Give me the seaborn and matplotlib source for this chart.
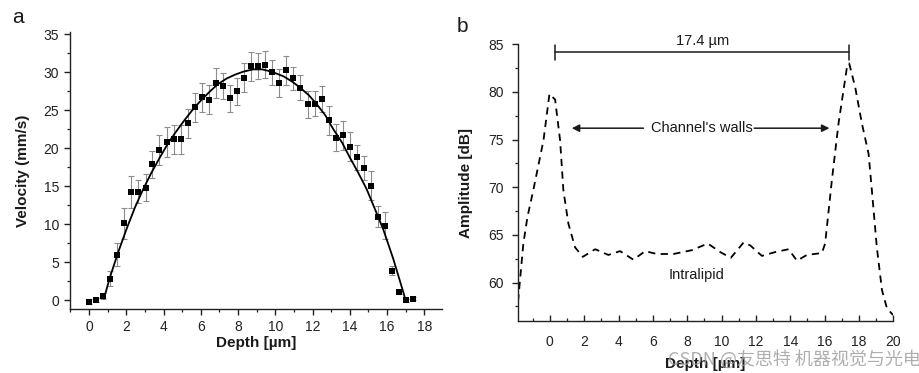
import numpy as np
import pandas as pd
import matplotlib
matplotlib.use("Agg")
import matplotlib.pyplot as plt
from matplotlib.ticker import MultipleLocator
import seaborn as sns

# ---------------- data: panel a ----------------
depth_a = [0.00, 0.38, 0.76, 1.13, 1.51, 1.89, 2.27, 2.65, 3.03, 3.40, 3.78, 4.16,
           4.54, 4.92, 5.30, 5.67, 6.05, 6.43, 6.81, 7.19, 7.57, 7.95, 8.32, 8.70,
           9.08, 9.46, 9.84, 10.22, 10.59, 10.97, 11.35, 11.73, 12.11, 12.49, 12.86,
           13.24, 13.62, 14.00, 14.38, 14.76, 15.13, 15.51, 15.89, 16.27, 16.65,
           17.03, 17.40]
velocity = [-0.2, 0.0, 0.6, 2.8, 6.0, 10.1, 14.3, 14.3, 14.8, 17.9, 19.8, 20.8,
            21.2, 21.2, 23.3, 25.4, 26.7, 26.4, 28.6, 28.2, 26.6, 27.5, 29.3, 30.8,
            30.8, 31.0, 30.0, 28.6, 30.3, 29.2, 28.0, 25.8, 25.9, 26.5, 23.7,
            21.4, 21.7, 20.2, 18.8, 17.4, 15.1, 11.0, 9.8, 3.9, 1.1,
            0.0, 0.2]
vel_err = [0.3, 0.3, 0.4, 1.0, 1.5, 2.0, 2.1, 1.5, 1.8, 1.8, 2.0, 2.0,
           1.9, 1.9, 1.9, 1.9, 1.9, 1.9, 2.0, 1.7, 1.8, 1.8, 1.9, 1.9,
           1.7, 1.8, 1.6, 1.8, 1.9, 1.5, 1.6, 1.8, 1.6, 1.7, 1.9,
           1.8, 1.9, 1.9, 1.6, 1.6, 1.9, 1.4, 1.8, 0.6, 0.3,
           0.2, 0.2]
fit_x = [0.80, 1.11, 1.56, 2.00, 2.46, 2.90, 3.35, 3.80, 4.25, 4.70, 5.15, 5.60,
         6.04, 6.49, 6.94, 7.39, 7.83, 8.28, 8.80, 9.30, 9.80, 10.43, 10.90, 11.33,
         11.80, 12.23, 12.70, 13.12, 13.60, 14.00, 14.45, 14.91, 15.35, 15.80,
         16.34, 16.88, 16.97]
fit_y = [0.2, 2.95, 6.3, 9.3, 12.2, 14.6, 16.8, 18.8, 20.7, 22.3, 23.8, 25.2,
         26.4, 27.5, 28.5, 29.2, 29.7, 30.1, 30.4, 30.4, 30.1, 29.5, 28.8, 28.0,
         27.0, 25.8, 24.3, 22.5, 20.7, 18.8, 16.8, 14.6, 12.0, 9.3,
         5.4, 1.0, 0.2]

# ---------------- data: panel b ----------------
depth_b = [-1.85, -1.54, -1.30, -0.96, -0.37, -0.02, 0.31, 0.60, 0.79, 1.08, 1.47,
           1.92, 2.64, 3.41, 4.09, 4.87, 5.55, 6.23, 7.20, 8.27, 9.20, 9.92,
           10.54, 11.28, 11.67, 12.35, 13.12, 13.90, 14.39, 14.97, 15.84, 16.03,
           16.42, 16.81, 17.30, 17.43, 17.78, 18.17, 18.56, 18.75, 19.04, 19.34,
           19.63, 19.98]
amplitude = [58.0, 64.1, 66.9, 69.7, 74.9, 79.8, 79.2, 74.9, 69.7, 66.2, 63.7,
             62.7, 63.5, 62.9, 63.3, 62.4, 63.3, 63.0, 63.0, 63.4, 64.1, 63.2,
             62.6, 64.2, 63.9, 62.8, 63.2, 63.5, 62.3, 62.9, 63.1, 64.1,
             70.7, 76.7, 82.6, 83.0, 80.5, 76.7, 73.5, 69.7, 63.7, 59.2,
             57.3, 56.6]

# annotation anchors (panel b, data units)
span_x = [0.33, 17.43]
span_y = 84.16
span_label = "17.4 µm"
walls_y = 76.2
walls_arrow_left = [5.45, 1.28]
walls_arrow_right = [11.9, 16.28]
walls_label = "Channel's walls"
lipid_label = "Intralipid"

df_a = pd.DataFrame({"depth": depth_a, "velocity": velocity, "err": vel_err})
df_fit = pd.DataFrame({"depth": fit_x, "velocity": fit_y})
df_b = pd.DataFrame({"depth": depth_b, "amplitude": amplitude})

sns.set_style("ticks")
plt.rcParams["font.family"] = ["Liberation Sans", "Noto Sans CJK SC", "DejaVu Sans"]
plt.rcParams["axes.edgecolor"] = "#222222"
plt.rcParams["xtick.color"] = "#222222"
plt.rcParams["ytick.color"] = "#222222"
plt.rcParams["text.color"] = "#1a1a1a"
plt.rcParams["axes.labelcolor"] = "#1a1a1a"

fig = plt.figure(figsize=(9.2, 3.73), dpi=100)
ax1 = fig.add_axes([0.0766, 0.1729, 0.4038, 0.7408])
ax2 = fig.add_axes([0.5627, 0.1402, 0.4083, 0.7410])

# ---- panel a ----
ax1.errorbar(df_a["depth"], df_a["velocity"], yerr=df_a["err"], fmt="none",
             ecolor="#8c8c8c", elinewidth=0.8, capsize=2.5, capthick=0.8, zorder=1)
sns.lineplot(data=df_fit, x="depth", y="velocity", ax=ax1, color="black",
             linewidth=1.3, estimator=None, sort=False, zorder=2)
sns.scatterplot(data=df_a, x="depth", y="velocity", ax=ax1, marker="s", s=20,
                color="black", linewidth=0, zorder=3)
ax1.set_xlim(-1.0, 18.95)
ax1.set_ylim(-1.1, 35.3)
ax1.xaxis.set_major_locator(MultipleLocator(2))
ax1.xaxis.set_minor_locator(MultipleLocator(1))
ax1.yaxis.set_major_locator(MultipleLocator(5))
ax1.yaxis.set_minor_locator(MultipleLocator(2.5))
ax1.tick_params(which="major", direction="out", length=4, width=1, labelsize=10, pad=4)
ax1.tick_params(which="minor", direction="out", length=2.5, width=0.9)
ax1.set_xlabel("Depth [µm]", fontsize=11, fontweight="bold", labelpad=2)
ax1.set_ylabel("Velocity (mm/s)", fontsize=11, fontweight="bold", labelpad=10)
sns.despine(ax=ax1)
for s in ("left", "bottom"):
    ax1.spines[s].set_linewidth(1.0)

# ---- panel b ----
sns.lineplot(data=df_b, x="depth", y="amplitude", ax=ax2, color="black",
             linewidth=1.3, estimator=None, sort=False, linestyle=(0, (4, 3)))
ax2.set_xlim(-1.87, 20.0)
ax2.set_ylim(56, 85)
ax2.xaxis.set_major_locator(MultipleLocator(2))
ax2.xaxis.set_minor_locator(MultipleLocator(1))
ax2.yaxis.set_major_locator(MultipleLocator(5))
ax2.yaxis.set_minor_locator(MultipleLocator(2.5))
ax2.tick_params(axis="y", which="major", direction="out", length=4, width=1, labelsize=10, pad=6)
ax2.tick_params(axis="y", which="minor", direction="out", length=2.5, width=0.9)
ax2.tick_params(axis="x", which="major", direction="in", length=4, width=1, labelsize=10, pad=10)
ax2.tick_params(axis="x", which="minor", direction="in", length=2.5, width=0.9)
ax2.set_xlabel("Depth [µm]", fontsize=11, fontweight="bold", labelpad=6)
ax2.set_ylabel("Amplitude [dB]", fontsize=11, fontweight="bold", labelpad=11)
sns.despine(ax=ax2)
for s in ("left", "bottom"):
    ax2.spines[s].set_linewidth(1.0)

# span bar
ax2.plot(span_x, [span_y, span_y], color="#1a1a1a", lw=1.1, clip_on=False)
for sx in span_x:
    ax2.plot([sx, sx], [span_y - 0.8, span_y + 0.75], color="#1a1a1a", lw=1.1, clip_on=False)
ax2.text(sum(span_x) / 2 - 0.0, span_y + 1.15, span_label, ha="center", va="center", fontsize=10.5)

# channel walls arrows
ax2.text(8.88, walls_y, walls_label, ha="center", va="center", fontsize=10.5)
for xs in (walls_arrow_left, walls_arrow_right):
    ax2.annotate("", xy=(xs[1], walls_y), xytext=(xs[0], walls_y),
                 arrowprops=dict(arrowstyle="-|>", color="#1a1a1a", lw=1.1,
                                 mutation_scale=11, shrinkA=0, shrinkB=0))
ax2.text(8.56, 60.8, lipid_label, ha="center", va="center", fontsize=10.5)

# panel letters
fig.text(0.0127, 0.939, "a", fontsize=15, ha="left", va="baseline")
fig.text(0.4964, 0.915, "b", fontsize=15, ha="left", va="baseline")

# watermark
fig.text(0.726, 0.0375, "CSDN @友思特 机器视觉与光电", fontsize=13, color="#9a9a9a",
         alpha=0.8, ha="left", va="center",
         family=["Noto Sans CJK SC", "DejaVu Sans"])

fig.savefig("out.png", dpi=100)
